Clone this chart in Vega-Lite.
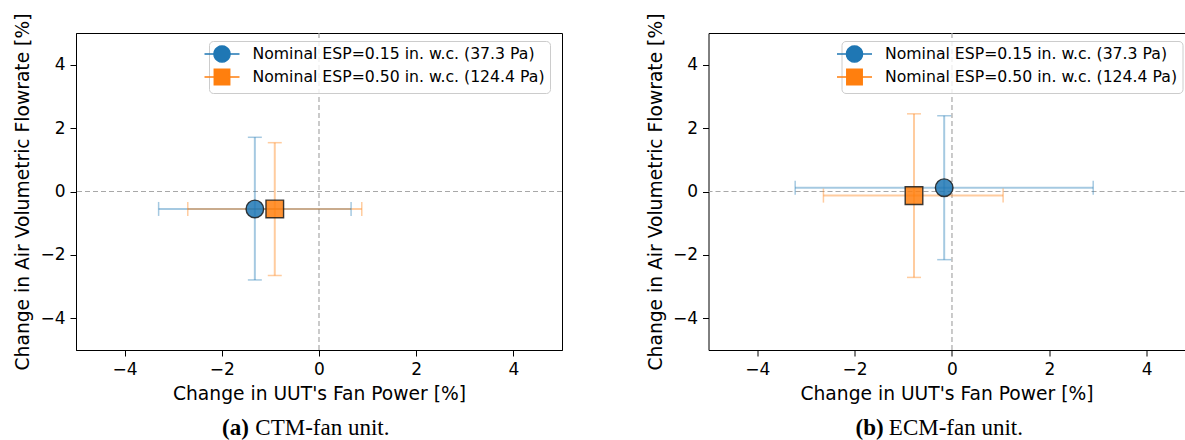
{
  "$schema": "https://vega.github.io/schema/vega-lite/v6.json",
  "background": "white",
  "padding": {"left": 13, "top": 12, "right": 0, "bottom": 0},
  "spacing": 81.5,
  "resolve": {"scale": {"color": "independent"}, "legend": {"color": "independent"}},
  "datasets": {
    "ctm": [
      {"series": "Nominal ESP=0.15 in. w.c. (37.3 Pa)", "x": -1.32, "y": -0.55, "xlo": -3.30, "xhi": 0.66, "ylo": -2.79, "yhi": 1.71},
      {"series": "Nominal ESP=0.50 in. w.c. (124.4 Pa)", "x": -0.91, "y": -0.55, "xlo": -2.70, "xhi": 0.88, "ylo": -2.65, "yhi": 1.54}
    ],
    "ecm": [
      {"series": "Nominal ESP=0.15 in. w.c. (37.3 Pa)", "x": -0.16, "y": 0.12, "xlo": -3.22, "xhi": 2.90, "ylo": -2.15, "yhi": 2.39},
      {"series": "Nominal ESP=0.50 in. w.c. (124.4 Pa)", "x": -0.78, "y": -0.13, "xlo": -2.64, "xhi": 1.05, "ylo": -2.71, "yhi": 2.45}
    ]
  },
  "hconcat": [
    {
      "width": 486,
      "height": 317,
      "data": {"name": "ctm"},
      "title": {"text": "(a)", "subtitle": "\u200b\u00a0\u00a0\u00a0\u00a0\u00a0\u2009CTM-fan unit.", "orient": "bottom", "anchor": "start", "frame": "group", "dx": 146, "fontWeight": "bold", "subtitleFontWeight": "normal", "subtitlePadding": -23, "offset": 14},
      "layer": [
        {"data": {"values": [{}]}, "mark": {"type": "rule", "strokeDash": [5, 3], "color": "#a8a8a8", "strokeWidth": 1.2},
         "encoding": {"x": {"datum": 0, "type": "quantitative", "axis": {"title": "Change in UUT's Fan Power [%]", "values": [-4, -2, 0, 2, 4]}, "scale": {"domain": [-5, 5], "nice": false, "zero": false}}}},
        {"data": {"values": [{}]}, "mark": {"type": "rule", "strokeDash": [5, 3], "color": "#a8a8a8", "strokeWidth": 1.2},
         "encoding": {"y": {"datum": 0, "type": "quantitative", "axis": {"title": "Change in Air Volumetric Flowrate [%]", "values": [-4, -2, 0, 2, 4]}, "scale": {"domain": [-5, 5], "nice": false, "zero": false}}}},
        {"mark": {"type": "rule", "strokeWidth": 2, "opacity": 0.4},
         "encoding": {"x": {"field": "xlo", "type": "quantitative", "axis": {"title": "Change in UUT's Fan Power [%]", "values": [-4, -2, 0, 2, 4]}}, "x2": {"field": "xhi"},
                      "y": {"field": "y", "type": "quantitative", "axis": {"title": "Change in Air Volumetric Flowrate [%]", "values": [-4, -2, 0, 2, 4]}},
                      "color": {"field": "series", "type": "nominal", "scale": {"domain": ["Nominal ESP=0.15 in. w.c. (37.3 Pa)", "Nominal ESP=0.50 in. w.c. (124.4 Pa)"], "range": ["#1f77b4", "#ff7f0e"]},
                        "legend": {"orient": "none", "legendX": 133, "legendY": 8, "title": null, "symbolOpacity": 1,
                          "encoding": {"symbols": {
                            "shape": {"condition": {"test": "datum.index == 0", "value": "M-2.5,0H-1.15M1.15,0H2.5M1.15,0L1.094,0.355L0.93,0.676L0.676,0.93L0.355,1.094L0,1.15L-0.355,1.094L-0.676,0.93L-0.93,0.676L-1.094,0.355L-1.15,0L-1.094,-0.355L-0.93,-0.676L-0.676,-0.93L-0.355,-1.094L0,-1.15L0.355,-1.094L0.676,-0.93L0.93,-0.676L1.094,-0.355Z"}, "value": "M-2.5,0H-1.1M1.1,0H2.5M-1.1,-1.1H1.1V1.1H-1.1Z"},
                            "fill": {"condition": {"test": "datum.index == 0", "value": "#1f77b4"}, "value": "#ff7f0e"},
                            "stroke": {"condition": {"test": "datum.index == 0", "value": "#1f77b4"}, "value": "#ff7f0e"}
                          }}}}}},
        {"mark": {"type": "rule", "strokeWidth": 2, "opacity": 0.4},
         "encoding": {"x": {"field": "x", "type": "quantitative", "axis": {"title": "Change in UUT's Fan Power [%]", "values": [-4, -2, 0, 2, 4]}},
                      "y": {"field": "ylo", "type": "quantitative", "axis": {"title": "Change in Air Volumetric Flowrate [%]", "values": [-4, -2, 0, 2, 4]}}, "y2": {"field": "yhi"},
                      "color": {"field": "series", "type": "nominal"}}},
        {"transform": [{"fold": ["xlo", "xhi"], "as": ["end", "xv"]}],
         "mark": {"type": "tick", "orient": "vertical", "size": 14, "thickness": 1.5, "opacity": 0.4},
         "encoding": {"x": {"field": "xv", "type": "quantitative", "axis": {"title": "Change in UUT's Fan Power [%]", "values": [-4, -2, 0, 2, 4]}},
                      "y": {"field": "y", "type": "quantitative", "axis": {"title": "Change in Air Volumetric Flowrate [%]", "values": [-4, -2, 0, 2, 4]}},
                      "color": {"field": "series", "type": "nominal"}}},
        {"transform": [{"fold": ["ylo", "yhi"], "as": ["end", "yv"]}],
         "mark": {"type": "tick", "orient": "horizontal", "size": 14, "thickness": 1.5, "opacity": 0.4},
         "encoding": {"x": {"field": "x", "type": "quantitative", "axis": {"title": "Change in UUT's Fan Power [%]", "values": [-4, -2, 0, 2, 4]}},
                      "y": {"field": "yv", "type": "quantitative", "axis": {"title": "Change in Air Volumetric Flowrate [%]", "values": [-4, -2, 0, 2, 4]}},
                      "color": {"field": "series", "type": "nominal"}}},
        {"transform": [{"filter": "datum.series == 'Nominal ESP=0.15 in. w.c. (37.3 Pa)'"}],
         "mark": {"type": "point", "shape": "circle", "filled": true, "size": 310, "opacity": 1, "fillOpacity": 0.85, "stroke": "#1a1a1a", "strokeOpacity": 0.85, "strokeWidth": 1.4},
         "encoding": {
           "x": {"field": "x", "type": "quantitative", "axis": {"title": "Change in UUT's Fan Power [%]", "values": [-4, -2, 0, 2, 4]}},
           "y": {"field": "y", "type": "quantitative", "axis": {"title": "Change in Air Volumetric Flowrate [%]", "values": [-4, -2, 0, 2, 4]}},
           "color": {"field": "series", "type": "nominal"}
         }},
        {"transform": [{"filter": "datum.series == 'Nominal ESP=0.50 in. w.c. (124.4 Pa)'"}],
         "mark": {"type": "point", "shape": "square", "filled": true, "size": 310, "opacity": 1, "fillOpacity": 0.85, "stroke": "#1a1a1a", "strokeOpacity": 0.85, "strokeWidth": 1.4},
         "encoding": {
           "x": {"field": "x", "type": "quantitative", "axis": {"title": "Change in UUT's Fan Power [%]", "values": [-4, -2, 0, 2, 4]}},
           "y": {"field": "y", "type": "quantitative", "axis": {"title": "Change in Air Volumetric Flowrate [%]", "values": [-4, -2, 0, 2, 4]}},
           "color": {"field": "series", "type": "nominal"}
         }}
      ]
    },
    {
      "width": 476,
      "height": 317,
      "data": {"name": "ecm"},
      "view": {"stroke": null},
      "title": {"text": "(b)", "subtitle": "\u200b\u00a0\u00a0\u00a0\u00a0\u00a0\u2009ECM-fan unit.", "orient": "bottom", "anchor": "start", "frame": "group", "dx": 147, "fontWeight": "bold", "subtitleFontWeight": "normal", "subtitlePadding": -23, "offset": 14},
      "resolve": {"axis": {"x": "independent"}},
      "layer": [
        {"data": {"values": [{}]}, "mark": {"type": "rule", "strokeDash": [5, 3], "color": "#a8a8a8", "strokeWidth": 1.2},
         "encoding": {"x": {"datum": 0, "type": "quantitative", "axis": {"orient": "top", "labels": false, "ticks": false, "title": null, "domain": true}, "scale": {"domain": [-5, 4.775], "nice": false, "zero": false}}}},
        {"data": {"values": [{}]}, "mark": {"type": "rule", "strokeDash": [5, 3], "color": "#a8a8a8", "strokeWidth": 1.2},
         "encoding": {"y": {"datum": 0, "type": "quantitative", "axis": {"title": "Change in Air Volumetric Flowrate [%]", "values": [-4, -2, 0, 2, 4]}, "scale": {"domain": [-5, 5], "nice": false, "zero": false}}}},
        {"mark": {"type": "rule", "strokeWidth": 2, "opacity": 0.4},
         "encoding": {"x": {"field": "xlo", "type": "quantitative", "axis": null}, "x2": {"field": "xhi"},
                      "y": {"field": "y", "type": "quantitative", "axis": {"title": "Change in Air Volumetric Flowrate [%]", "values": [-4, -2, 0, 2, 4]}},
                      "color": {"field": "series", "type": "nominal", "scale": {"domain": ["Nominal ESP=0.15 in. w.c. (37.3 Pa)", "Nominal ESP=0.50 in. w.c. (124.4 Pa)"], "range": ["#1f77b4", "#ff7f0e"]},
                        "legend": {"orient": "none", "legendX": 133, "legendY": 8, "title": null, "symbolOpacity": 1,
                          "encoding": {"symbols": {
                            "shape": {"condition": {"test": "datum.index == 0", "value": "M-2.5,0H-1.15M1.15,0H2.5M1.15,0L1.094,0.355L0.93,0.676L0.676,0.93L0.355,1.094L0,1.15L-0.355,1.094L-0.676,0.93L-0.93,0.676L-1.094,0.355L-1.15,0L-1.094,-0.355L-0.93,-0.676L-0.676,-0.93L-0.355,-1.094L0,-1.15L0.355,-1.094L0.676,-0.93L0.93,-0.676L1.094,-0.355Z"}, "value": "M-2.5,0H-1.1M1.1,0H2.5M-1.1,-1.1H1.1V1.1H-1.1Z"},
                            "fill": {"condition": {"test": "datum.index == 0", "value": "#1f77b4"}, "value": "#ff7f0e"},
                            "stroke": {"condition": {"test": "datum.index == 0", "value": "#1f77b4"}, "value": "#ff7f0e"}
                          }}}}}},
        {"mark": {"type": "rule", "strokeWidth": 2, "opacity": 0.4},
         "encoding": {"x": {"field": "x", "type": "quantitative", "axis": null},
                      "y": {"field": "ylo", "type": "quantitative", "axis": {"title": "Change in Air Volumetric Flowrate [%]", "values": [-4, -2, 0, 2, 4]}}, "y2": {"field": "yhi"},
                      "color": {"field": "series", "type": "nominal"}}},
        {"transform": [{"fold": ["xlo", "xhi"], "as": ["end", "xv"]}],
         "mark": {"type": "tick", "orient": "vertical", "size": 14, "thickness": 1.5, "opacity": 0.4},
         "encoding": {"x": {"field": "xv", "type": "quantitative", "axis": null},
                      "y": {"field": "y", "type": "quantitative", "axis": {"title": "Change in Air Volumetric Flowrate [%]", "values": [-4, -2, 0, 2, 4]}},
                      "color": {"field": "series", "type": "nominal"}}},
        {"transform": [{"fold": ["ylo", "yhi"], "as": ["end", "yv"]}],
         "mark": {"type": "tick", "orient": "horizontal", "size": 14, "thickness": 1.5, "opacity": 0.4},
         "encoding": {"x": {"field": "x", "type": "quantitative", "axis": null},
                      "y": {"field": "yv", "type": "quantitative", "axis": {"title": "Change in Air Volumetric Flowrate [%]", "values": [-4, -2, 0, 2, 4]}},
                      "color": {"field": "series", "type": "nominal"}}},
        {"transform": [{"filter": "datum.series == 'Nominal ESP=0.15 in. w.c. (37.3 Pa)'"}],
         "mark": {"type": "point", "shape": "circle", "filled": true, "size": 310, "opacity": 1, "fillOpacity": 0.85, "stroke": "#1a1a1a", "strokeOpacity": 0.85, "strokeWidth": 1.4},
         "encoding": {
           "x": {"field": "x", "type": "quantitative", "axis": {"title": "Change in UUT's Fan Power [%]", "values": [-4, -2, 0, 2, 4]}},
           "y": {"field": "y", "type": "quantitative", "axis": {"title": "Change in Air Volumetric Flowrate [%]", "values": [-4, -2, 0, 2, 4]}},
           "color": {"field": "series", "type": "nominal"}
         }},
        {"transform": [{"filter": "datum.series == 'Nominal ESP=0.50 in. w.c. (124.4 Pa)'"}],
         "mark": {"type": "point", "shape": "square", "filled": true, "size": 310, "opacity": 1, "fillOpacity": 0.85, "stroke": "#1a1a1a", "strokeOpacity": 0.85, "strokeWidth": 1.4},
         "encoding": {
           "x": {"field": "x", "type": "quantitative", "axis": null},
           "y": {"field": "y", "type": "quantitative", "axis": {"title": "Change in Air Volumetric Flowrate [%]", "values": [-4, -2, 0, 2, 4]}},
           "color": {"field": "series", "type": "nominal"}
         }}
      ]
    }
  ],
  "config": {
    "font": "DejaVu Sans",
    "view": {"stroke": "black", "strokeWidth": 1},
    "axis": {"labelFont": "DejaVu Sans", "labelFontSize": 17, "labelColor": "black", "titleFont": "DejaVu Sans", "titleFontSize": 18.7, "titleFontWeight": "normal", "titleColor": "black",
             "domainColor": "black", "tickColor": "black", "grid": false, "tickSize": 6, "labelPadding": 5, "titlePadding": 7},
    "legend": {"labelFont": "DejaVu Sans", "labelFontSize": 15.7, "labelColor": "black", "labelLimit": 500, "symbolSize": 196, "symbolStrokeWidth": 1.5,
               "labelOffset": 22.5, "rowPadding": 0, "padding": 5, "fillColor": "rgba(255,255,255,0.8)", "strokeColor": "#cccccc", "cornerRadius": 4},
    "title": {"font": "Liberation Serif", "fontSize": 23, "color": "black", "subtitleFont": "Liberation Serif", "subtitleFontSize": 23, "subtitleColor": "black"}
  }
}
